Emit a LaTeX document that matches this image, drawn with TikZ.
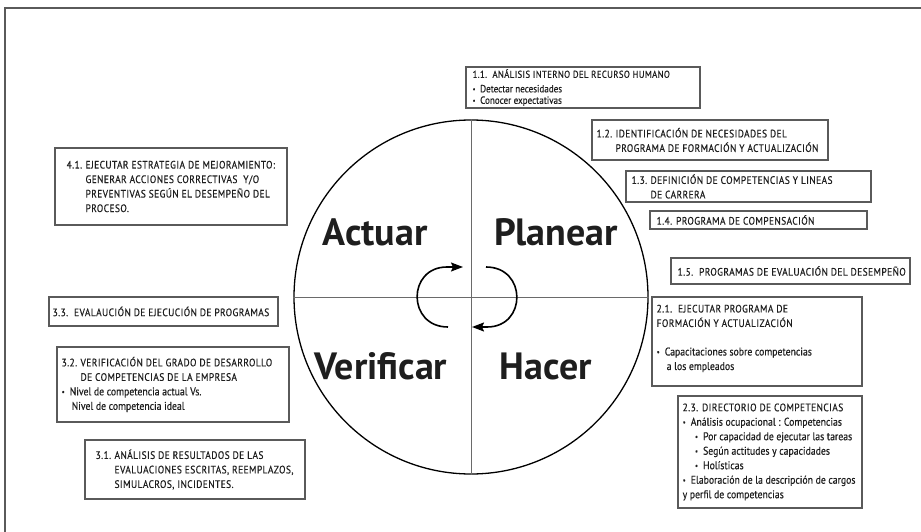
\documentclass[tikz,border=0pt]{standalone}
\usepackage{fontspec}
\setmainfont{PT Sans}
\newfontfamily\boxfam[FakeStretch=0.87,FakeBold=0.4]{PT Sans}
\newfontfamily\capfam[FakeStretch=0.87,FakeBold=0.4,LetterSpace=4]{PT Sans}
\newfontfamily\labfam{PT Sans}
\usetikzlibrary{arrows.meta}
\definecolor{framegray}{HTML}{5A5A5A}
\definecolor{inkgray}{HTML}{1E1E1E}
\definecolor{crossgray}{HTML}{6A6A6A}
% bullet, item number and continuation indent used inside the boxes
\newcommand{\bul}{\raisebox{0.15ex}{\scalebox{0.7}{\textbullet}}\hspace{0.45em}}
\newcommand{\bulind}{\hspace*{0.9em}}
\newcommand{\itemno}[1]{\makebox[1.75em][l]{#1}}
\newcommand{\contind}{\hspace*{1.75em}}
\begin{document}
\begin{tikzpicture}[x=1pt,y=-1pt,
  infobox/.style={draw=framegray, line width=1.1pt, inner sep=0pt},
  infotext/.style={anchor=west, align=left, inner sep=0pt, text=inkgray,
    font=\boxfam\fontsize{11.2}{14.5}\selectfont},
  captext/.style={infotext, font=\capfam\fontsize{10.8}{14.5}\selectfont},
  biglab/.style={font=\labfam\bfseries\fontsize{38}{40}\selectfont, text=inkgray, inner sep=0pt},
  cyc/.style={line width=1.6pt, -{Stealth[length=12pt,width=9pt,inset=2pt]}}]
\useasboundingbox (0,0) rectangle (921,532);
\clip (0,0) rectangle (921,532);

% outer frame
\draw[framegray, line width=2pt] (5,545) -- (5,8) -- (935,8);

% PDCA circle with its quadrants
\node[circle, draw, line width=1.3pt, minimum size=354pt, inner sep=0pt] (cycle) at (471,297) {};
\draw[crossgray, line width=1pt] (cycle.west) -- (cycle.east);
\draw[crossgray, line width=1pt] (cycle.north) -- (cycle.south);

\node[biglab] (actuar) at (375,232) {Actuar};
\node[biglab] (planear) at (556,232) {Planear};
\node[biglab] (verificar) at (381,366) {Verificar};
\node[biglab] (hacer) at (546,366) {Hacer};

% rotation arrows in the centre
\coordinate (l0) at (448,327);
\coordinate (l1) at (447,267);
\coordinate (ltip) at (463,267);
\draw[cyc] (l0) .. controls (407,327) and (407,267) .. (l1) -- (ltip);
\coordinate (r0) at (486,267);
\coordinate (r1) at (487,327);
\coordinate (rtip) at (472,327);
\draw[cyc] (r0) .. controls (527,267) and (527,327) .. (r1) -- (rtip);

% Planear
\node[infobox, minimum width=234pt, minimum height=41pt] (b11) at (583,87.5) {};
\node[infotext, font=\boxfam\fontsize{10.4}{11.5}\selectfont] (t11) at ([xshift=7pt]b11.west)
  {{\capfam\fontsize{10}{11.5}\selectfont 1.1.\ \ ANÁLISIS INTERNO DEL RECURSO HUMANO}\\[3pt]
   \bul Detectar necesidades\\
   \bul Conocer expectativas};
\node[infobox, minimum width=236pt, minimum height=40pt] (b12) at (710,140) {};
\node[captext] (t12) at ([xshift=5pt]b12.west)
  {\itemno{1.2.}IDENTIFICACIÓN DE NECESIDADES DEL\\
   \contind PROGRAMA DE FORMACIÓN Y ACTUALIZACIÓN};
\node[infobox, minimum width=245pt, minimum height=31pt] (b13) at (748.5,186.5) {};
\node[captext] (t13) at ([xshift=6pt]b13.west)
  {\itemno{1.3.}DEFINICIÓN DE COMPETENCIAS Y LINEAS\\
   \contind DE CARRERA};
\node[infobox, minimum width=217pt, minimum height=18pt] (b14) at (758.5,220) {};
\node[captext] (t14) at ([xshift=7pt]b14.west)
  {1.4. PROGRAMA DE COMPENSACIÓN};
\node[infobox, minimum width=239pt, minimum height=26pt] (b15) at (790.5,271) {};
\node[captext] (t15) at ([xshift=7pt]b15.west)
  {1.5.\ \ PROGRAMAS DE EVALUACIÓN DEL DESEMPEÑO};

% Hacer
\node[infobox, minimum width=210pt, minimum height=89pt] (b21) at (757,341.5) {};
\node[infotext] (t21) at ([xshift=5pt,yshift=3pt]b21.west)
  {{\capfam\fontsize{10.8}{14.5}\selectfont 2.1.\ \ EJECUTAR PROGRAMA DE}\\
   {\capfam\fontsize{10.8}{14.5}\selectfont FORMACIÓN Y ACTUALIZACIÓN}\\[14pt]
   \bul Capacitaciones sobre competencias\\
   \bulind a los empleados};
\node[infobox, minimum width=184pt, minimum height=112pt] (b23) at (770,452) {};
\node[infotext] (t23) at ([xshift=5pt]b23.west)
  {{\capfam\fontsize{10.8}{14.5}\selectfont 2.3. DIRECTORIO DE COMPETENCIAS}\\
   \bul Análisis ocupacional : Competencias\\
   \hspace*{1.1em}\bul Por capacidad de ejecutar las tareas\\
   \hspace*{1.1em}\bul Según actitudes y capacidades\\
   \hspace*{1.1em}\bul Holísticas\\
   \bul Elaboración de la descripción de cargos\\
   y perfil de competencias};

% Actuar
\node[infobox, minimum width=232pt, minimum height=77pt] (b41) at (171,186.5) {};
\node[captext] (t41) at ([xshift=12pt]b41.west)
  {\itemno{4.1.}EJECUTAR ESTRATEGIA DE MEJORAMIENTO:\\
   \contind GENERAR ACCIONES CORRECTIVAS\ \ Y/O\\
   \contind PREVENTIVAS SEGÚN EL DESEMPEÑO DEL\\
   \contind PROCESO.};

% Verificar
\node[infobox, minimum width=229pt, minimum height=29pt] (b33) at (163.5,311.5) {};
\node[captext] (t33) at ([xshift=4pt]b33.west)
  {3.3.\ \ EVALAUCIÓN DE EJECUCIÓN DE PROGRAMAS};
\node[infobox, minimum width=232pt, minimum height=75pt] (b32) at (173,384.5) {};
\node[infotext] (t32) at ([xshift=5pt]b32.west)
  {{\capfam\fontsize{10.8}{14.5}\selectfont\itemno{3.2.}VERIFICACIÓN DEL GRADO DE DESARROLLO}\\
   {\capfam\fontsize{10.8}{14.5}\selectfont\contind DE COMPETENCIAS DE LA EMPRESA}\\
   \bul Nivel de competencia actual Vs.\\
   \bulind Nivel de competencia ideal};
\node[infobox, minimum width=220pt, minimum height=59pt] (b31) at (195,469.5) {};
\node[captext] (t31) at ([xshift=11pt]b31.west)
  {\itemno{3.1.}ANÁLISIS DE RESULTADOS DE LAS\\
   \contind EVALUACIONES ESCRITAS, REEMPLAZOS,\\
   \contind SIMULACROS, INCIDENTES.};
\end{tikzpicture}
\end{document}
